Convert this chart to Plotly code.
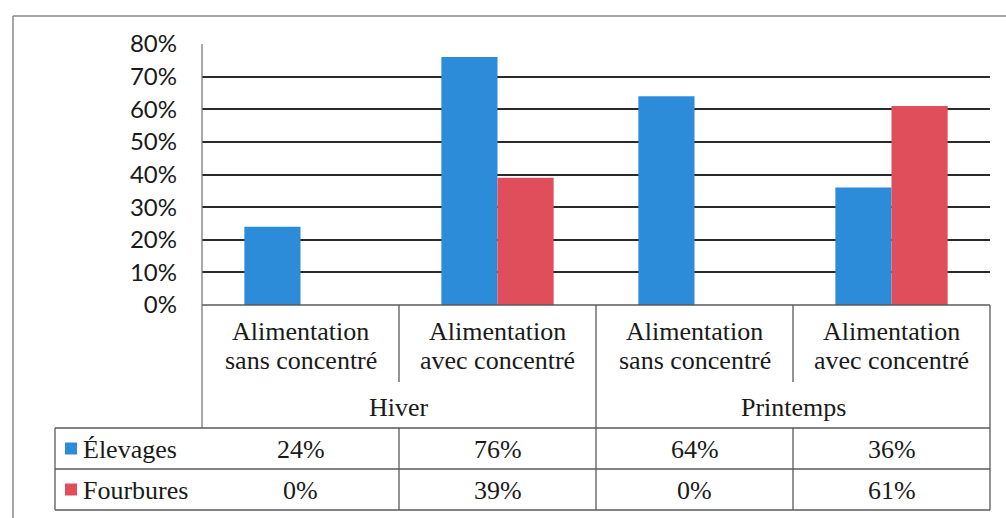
import plotly.graph_objects as go

# ---- data ----
seasons = ["Hiver", "Hiver", "Printemps", "Printemps"]
feeds = [
    "Alimentation sans concentré",
    "Alimentation avec concentré",
    "Alimentation sans concentré",
    "Alimentation avec concentré",
]
series_names = ["Élevages", "Fourbures"]
elevages = [0.24, 0.76, 0.64, 0.36]
fourbures = [0.00, 0.39, 0.00, 0.61]
y_ticks = [0.0, 0.1, 0.2, 0.3, 0.4, 0.5, 0.6, 0.7, 0.8]

# ---- styling / layout ----
W, H = 1006, 518
BLUE = "#2D8CDA"
RED = "#E04E5B"
TEXT = "#1a1a1a"
LINE = "#5a5a5a"
SERIF = "Liberation Serif, Times New Roman, serif"
SANS = "Lato, Carlito, Calibri, sans-serif"

plot_x0, plot_x1 = 202, 990
plot_top, plot_bottom = 44, 305
row_cat_bottom = 382
row_season_bottom = 428
row_el_bottom = 469
row_fo_bottom = 510
table_left = 55


def px(x):
    return x / W


def py(y):
    return 1 - y / H


n = len(feeds)
xs = list(range(n))
series_vals = [elevages, fourbures]
colors = [BLUE, RED]

fig = go.Figure()
for name, vals, col in zip(series_names, series_vals, colors):
    fig.add_trace(go.Bar(
        x=xs, y=vals, name=name, marker=dict(color=col, line=dict(width=0)),
        showlegend=False,
    ))

shapes = []
annotations = []


def hline(y, x0, x1, color=LINE, width=1.3):
    shapes.append(dict(type="line", xref="paper", yref="paper",
                       x0=px(x0), x1=px(x1), y0=py(y), y1=py(y),
                       line=dict(color=color, width=width)))


def vline(x, y0, y1, color=LINE, width=1.3):
    shapes.append(dict(type="line", xref="paper", yref="paper",
                       x0=px(x), x1=px(x), y0=py(y0), y1=py(y1),
                       line=dict(color=color, width=width)))


def text(x, y, s, size=26, xanchor="center", font=SERIF):
    annotations.append(dict(xref="paper", yref="paper", x=px(x), y=py(y),
                            text=s, showarrow=False, xanchor=xanchor,
                            yanchor="middle",
                            font=dict(family=font, size=size, color=TEXT)))


# outer chart frame (top and left edges)
hline(16, 13, W, color="#8a8a8a", width=1.5)
vline(13, 16, H, color="#8a8a8a", width=1.5)

# column edges of the data table follow the category slots of the x axis
step = (plot_x1 - plot_x0) / n
edges = [plot_x0 + i * step for i in range(n + 1)]
centers = [plot_x0 + (i + 0.5) * step for i in range(n)]

# category header row
hline(plot_bottom, plot_x0, plot_x1)
vline(plot_x0, plot_top, row_season_bottom, color="#7a7a7a")
vline(plot_x1, plot_bottom, row_fo_bottom)
for i in range(1, n):
    if seasons[i] != seasons[i - 1]:
        vline(edges[i], plot_bottom, row_fo_bottom)
    else:
        vline(edges[i], plot_bottom, row_cat_bottom)
        vline(edges[i], row_season_bottom, row_fo_bottom)

for c, f in zip(centers, feeds):
    first, rest = f.split(" ", 1)
    text(c, 331, first)
    text(c, 360, rest)

# season labels centred over their group of categories
groups = []
for i, s in enumerate(seasons):
    if groups and groups[-1][0] == s:
        groups[-1][2] = i
    else:
        groups.append([s, i, i])
for s, a, b in groups:
    text((edges[a] + edges[b + 1]) / 2, 407, s)

# value rows
hline(row_season_bottom, table_left, plot_x1)
hline(row_el_bottom, table_left, plot_x1)
hline(row_fo_bottom, table_left, plot_x1)
vline(table_left, row_season_bottom, row_fo_bottom)

row_mid = [(row_season_bottom + row_el_bottom) / 2 + 1,
           (row_el_bottom + row_fo_bottom) / 2 + 1]
for name, vals, col, ym in zip(series_names, series_vals, colors, row_mid):
    shapes.append(dict(type="rect", xref="paper", yref="paper",
                       x0=px(65), x1=px(77), y0=py(ym - 7), y1=py(ym + 5),
                       fillcolor=col, line=dict(width=0)))
    text(81, ym, name, xanchor="left")
    for c, v in zip(centers, vals):
        text(c, ym, f"{v:.0%}")

fig.update_layout(
    width=W, height=H,
    margin=dict(l=0, r=0, t=0, b=0, pad=0, autoexpand=False),
    paper_bgcolor="white", plot_bgcolor="white",
    barmode="group", bargap=0.43, bargroupgap=0,
    xaxis=dict(domain=[px(plot_x0), px(plot_x1)], range=[-0.5, n - 0.5],
               showticklabels=False, showgrid=False, zeroline=False,
               showline=False, fixedrange=True, automargin=False),
    yaxis=dict(domain=[py(plot_bottom), py(plot_top)], range=[0, 0.8],
               tickvals=y_ticks, tickformat=".0%",
               showgrid=True, gridcolor="#2a2a2a", gridwidth=1.5,
               zeroline=False, showline=False, automargin=False,
               ticks="", ticklabelstandoff=24,
               tickfont=dict(family=SANS, size=24, color=TEXT)),
    shapes=shapes,
    annotations=annotations,
)

fig.write_html("out.html")
